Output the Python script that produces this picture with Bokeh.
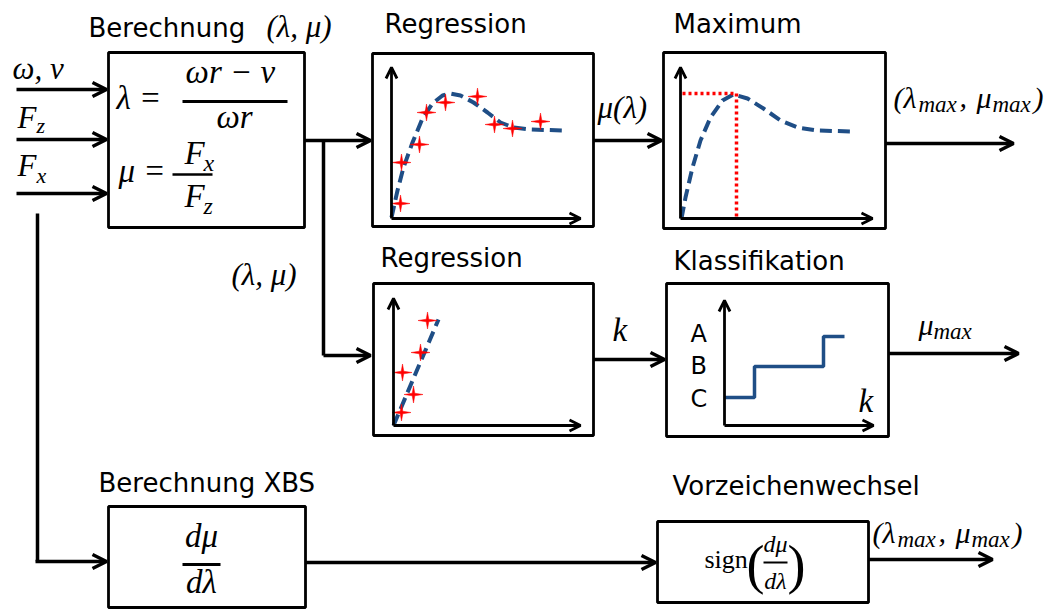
import numpy as np
from bokeh.plotting import figure
from bokeh.models import Range1d, Arrow, OpenHead
from bokeh.core.properties import value
from bokeh.embed import file_html
from bokeh.resources import INLINE

# ---------------- data (pixel space) ----------------
block_titles = ["Berechnung", "Regression", "Maximum", "Regression", "Klassifikation",
                "Berechnung XBS", "Vorzeichenwechsel"]
class_labels = ["A", "B", "C"]

curve_top_x = [391, 397, 403, 412, 422, 432, 442, 450, 460, 473, 487, 500, 513, 530, 562]
curve_top_y = [217, 190, 167, 142, 118, 103, 95, 93, 95, 102, 112, 122, 127, 129, 130]
stars_top_x = [400, 401, 419, 426, 445, 477, 494, 512, 540]
stars_top_y = [203, 162, 144, 112, 102, 96, 124, 128, 121]

curve_max_x = [681, 685, 692, 700, 710, 722, 733, 747, 763, 780, 797, 817, 853]
curve_max_y = [218, 197, 167, 140, 117, 100, 94, 98, 108, 120, 127, 130, 131]
max_point_x = 736
max_point_y = 93

line_low_x = [393, 438]
line_low_y = [425, 319]
stars_low_x = [427, 420, 402, 413, 401]
stars_low_y = [320, 352, 372, 394, 412]

step_x = [724, 754, 754, 823, 823, 844]
step_y = [397, 397, 366, 366, 336, 336]

W, H = 1053, 610
p = figure(width=W, height=H, x_range=Range1d(0, W), y_range=Range1d(H, 0),
           output_backend="svg", toolbar_location=None,
           x_axis_location=None, y_axis_location=None, min_border=0)
p.grid.visible = False
p.outline_line_color = None

SANS = "DejaVu Sans"
SERIF = "Liberation Serif"
BLUE = "#1F4E86"
SHIFT = 0.37  # compensate renderer baseline offset


def txt(x, y, s, size, font=SANS, style="normal", align="left"):
    p.text(x=[x], y=[y - SHIFT * size], text=[s], text_font=value(font),
           text_font_size=value(f"{size}px"), text_font_style=value(style),
           text_align=value(align), text_baseline=value("alphabetic"),
           text_color="black")


def mtxt(x, y, s, size=30, align="left"):
    txt(x, y, s, size, SERIF, "italic", align)


def arrow(x0, y0, x1, y1, lw=3.5, size=14):
    p.add_layout(Arrow(end=OpenHead(size=size, line_width=lw, line_color="black"),
                       x_start=x0, y_start=y0, x_end=x1, y_end=y1,
                       line_width=lw, line_color="black"))


def seg(x0, y0, x1, y1, lw=3.5, color="black", dash="solid"):
    p.segment(x0=[x0], y0=[y0], x1=[x1], y1=[y1], line_width=lw,
              line_color=color, line_dash=dash)


def box(l, r, t, b):
    p.quad(left=[l], right=[r], top=[t], bottom=[b], fill_color=None,
           line_color="black", line_width=2.8)


def stars(xs, ys, rx=9.5, ry=8.5, ri=1.8):
    ang = np.arange(8) * np.pi / 4
    rad_x = np.where(np.arange(8) % 2 == 0, rx, ri)
    rad_y = np.where(np.arange(8) % 2 == 0, ry, ri)
    pxs = [list(cx + rad_x * np.cos(ang)) for cx in xs]
    pys = [list(cy + rad_y * np.sin(ang)) for cy in ys]
    p.patches(xs=pxs, ys=pys, fill_color="#FF0000", line_color="#FF0000", line_width=0.5)


def pair(x, y, big=30, small=23):
    # "(λ_max, μ_max)"
    mtxt(x, y, "(λ", big)
    mtxt(x + 25, y + 5, "max", small)
    mtxt(x + 66, y, ",", big)
    mtxt(x + 83, y, "μ", big)
    mtxt(x + 99, y + 5, "max", small)
    mtxt(x + 140, y, ")", big)


# ---------------- boxes ----------------
box(108, 304, 52, 227)
box(372, 593, 53, 226)
box(663, 885, 52, 228)
box(373, 593, 283, 435)
box(666, 888, 283, 436)
box(108, 305, 506, 607)
box(657, 868, 521, 602)

# ---------------- titles ----------------
txt(88, 37, block_titles[0], 26)
mtxt(266, 37, "(λ, μ)", 31)
txt(384, 33, block_titles[1], 26)
txt(673, 33, block_titles[2], 26)
txt(380, 267, block_titles[3], 26)
txt(673, 270, block_titles[4], 26)
txt(98, 492, block_titles[5], 26)
txt(672, 495, block_titles[6], 26)

# ---------------- inputs ----------------
mtxt(12, 79, "ω, v", 31)
mtxt(17, 128, "F", 31)
mtxt(36, 133, "z", 22)
mtxt(17, 176, "F", 31)
mtxt(36, 183, "x", 22)
arrow(16, 89, 106, 89)
arrow(16, 139, 106, 139)
arrow(16, 193, 106, 193)

# ---------------- block 1 formulas ----------------
mtxt(116, 110, "λ =", 33)
mtxt(234, 84, "ωr  − v", 33, align="center")
seg(182, 101, 287, 101, lw=2.8)
mtxt(234, 129, "ωr", 33, align="center")
mtxt(118, 183, "μ =", 33)
mtxt(184, 165, "F", 33)
mtxt(203, 171, "x", 24)
seg(172, 174, 212, 174, lw=2.5)
mtxt(184, 208, "F", 33)
mtxt(203, 214, "z", 24)

# ---------------- connections ----------------
seg(37, 213, 37, 561)
arrow(35, 561, 106, 561)
arrow(304, 140, 370, 140)
seg(323, 140, 323, 355)
arrow(323, 355, 370, 355)
mtxt(231, 285, "(λ, μ)", 31)

arrow(593, 140, 661, 140)
mtxt(597, 118, "μ(λ)", 31)
arrow(885, 143, 1013, 143)
pair(893, 108)

arrow(593, 359, 664, 359)
mtxt(612, 342, "k", 33)
arrow(888, 353, 1018, 353)
mtxt(918, 335, "μ", 30)
mtxt(933, 340, "max", 23)

arrow(305, 562, 655, 562)
arrow(868, 559, 992, 559)
pair(872, 543)

# ---------------- XBS formula ----------------
mtxt(201, 548, "dμ", 33, align="center")
seg(182, 564, 220, 564, lw=2.8)
mtxt(201, 594, "dλ", 33, align="center")

# ---------------- sign formula ----------------
txt(704, 569, "sign", 26, SERIF)
txt(746, 584, "(", 54, SERIF)
mtxt(775, 552, "dμ", 24, align="center")
seg(763, 562, 787, 562, lw=2)
mtxt(775, 589, "dλ", 24, align="center")
txt(787, 584, ")", 54, SERIF)

# ---------------- mini chart: regression (top) ----------------
arrow(391, 218, 391, 67, lw=2.8, size=11)
arrow(391, 218, 580, 218, lw=2.8, size=11)
p.line(curve_top_x, curve_top_y, line_color=BLUE, line_width=4, line_dash="12 6")
stars(stars_top_x, stars_top_y)

# ---------------- mini chart: maximum ----------------
arrow(680, 218, 680, 67, lw=2.8, size=11)
arrow(680, 218, 872, 218, lw=2.8, size=11)
p.line(curve_max_x, curve_max_y, line_color=BLUE, line_width=4, line_dash="12 6")
p.line([682, max_point_x, max_point_x], [max_point_y, max_point_y, 218],
       line_color="#FF0000", line_width=3.5, line_dash="3 3")

# ---------------- mini chart: regression (bottom) ----------------
arrow(393, 425, 393, 298, lw=2.8, size=11)
arrow(393, 425, 580, 425, lw=2.8, size=11)
p.line(line_low_x, line_low_y, line_color=BLUE, line_width=4, line_dash="12 6")
stars(stars_low_x, stars_low_y)

# ---------------- mini chart: classification ----------------
arrow(724, 425, 724, 300, lw=2.8, size=11)
arrow(724, 425, 873, 425, lw=2.8, size=11)
p.line(step_x, step_y, line_color=BLUE, line_width=3.5)
for lab, yy in zip(class_labels, [342, 374, 407]):
    txt(690, yy, lab, 24)
mtxt(858, 413, "k", 33)

open("out.html", "w").write(file_html(p, INLINE))
